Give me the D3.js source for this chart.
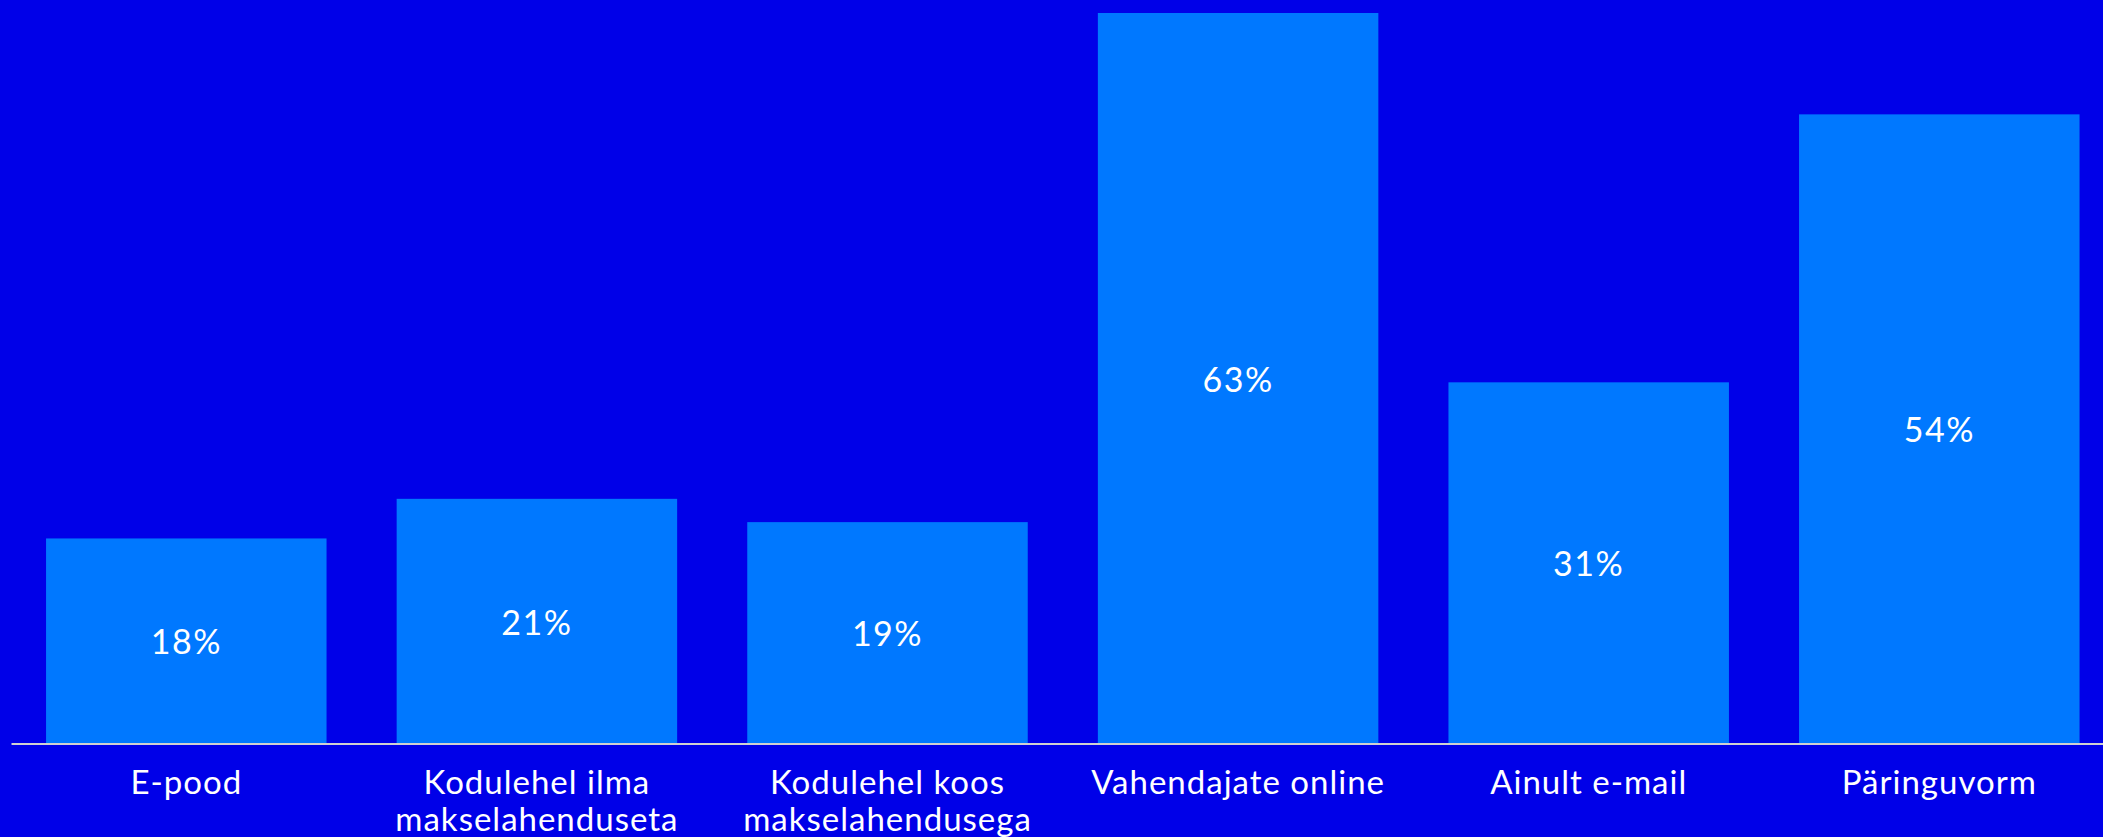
<!DOCTYPE html>
<html>
<head>
<meta charset="utf-8">
<script src="https://cdn.jsdelivr.net/npm/d3@7"></script>
<style>
  html, body { margin: 0; padding: 0; background: #0000E8; }
  svg { display: block; }
  text { font-family: Lato, "Noto Sans", sans-serif; fill: #ffffff; }
</style>
</head>
<body>
<svg id="chart"></svg>
<script>
const categories = ["E-pood", "Kodulehel ilma makselahenduseta", "Kodulehel koos makselahendusega", "Vahendajate online", "Ainult e-mail", "Päringuvorm"];
const values = [17.6, 21.0, 19.0, 62.7, 31.0, 54.0];

const W = 2103, H = 837;
const baseY = 743.5, topY = 13;
const svg = d3.select("#chart").attr("width", W).attr("height", H);

svg.append("rect").attr("width", W).attr("height", H).attr("fill", "#0000E8");

const x = d3.scaleBand().domain(categories).range([11, 2114.6]).paddingInner(0.2).paddingOuter(0.1);
const y = d3.scaleLinear().domain([0, d3.max(values)]).range([baseY, topY]);
const fmt = d3.format(".0f");

const data = categories.map((c, i) => ({ c, v: values[i] }));

svg.append("g").selectAll("rect").data(data).join("rect")
  .attr("x", d => x(d.c))
  .attr("y", d => y(d.v))
  .attr("width", x.bandwidth())
  .attr("height", d => y(0) - y(d.v))
  .attr("fill", "#0078FF");

svg.append("g").selectAll("text").data(data).join("text")
  .attr("x", d => x(d.c) + x.bandwidth() / 2)
  .attr("y", d => (y(d.v) + y(0)) / 2)
  .attr("text-anchor", "middle")
  .attr("dominant-baseline", "central")
  .style("font-size", "34px")
  .style("letter-spacing", "1.5px")
  .text(d => fmt(d.v) + "%");

const axis = svg.append("g").attr("transform", `translate(0,${baseY})`)
  .call(d3.axisBottom(x).tickSize(0).tickPadding(0));
axis.select(".domain").attr("stroke", "#d0d0d0").attr("stroke-width", 1.8);

function wrap(sel, width) {
  sel.each(function() {
    const t = d3.select(this);
    const words = t.text().split(/\s+/);
    t.text(null);
    let line = [], lines = [];
    let tspan = t.append("tspan");
    for (const w of words) {
      line.push(w);
      tspan.text(line.join(" "));
      if (tspan.node().getComputedTextLength() > width && line.length > 1) {
        line.pop();
        lines.push(line.join(" "));
        line = [w];
        tspan.text(w);
      }
    }
    lines.push(line.join(" "));
    t.text(null);
    lines.forEach((l, i) => {
      t.append("tspan").attr("x", 0).attr("y", 50 + i * 37).text(l);
    });
  });
}

axis.selectAll(".tick text")
  .attr("fill", "#ffffff")
  .attr("dy", null)
  .style("font-size", "33px")
  .style("letter-spacing", "1px")
  .style("font-family", "Lato, 'Noto Sans', sans-serif")
  .call(wrap, 330);
</script>
</body>
</html>
